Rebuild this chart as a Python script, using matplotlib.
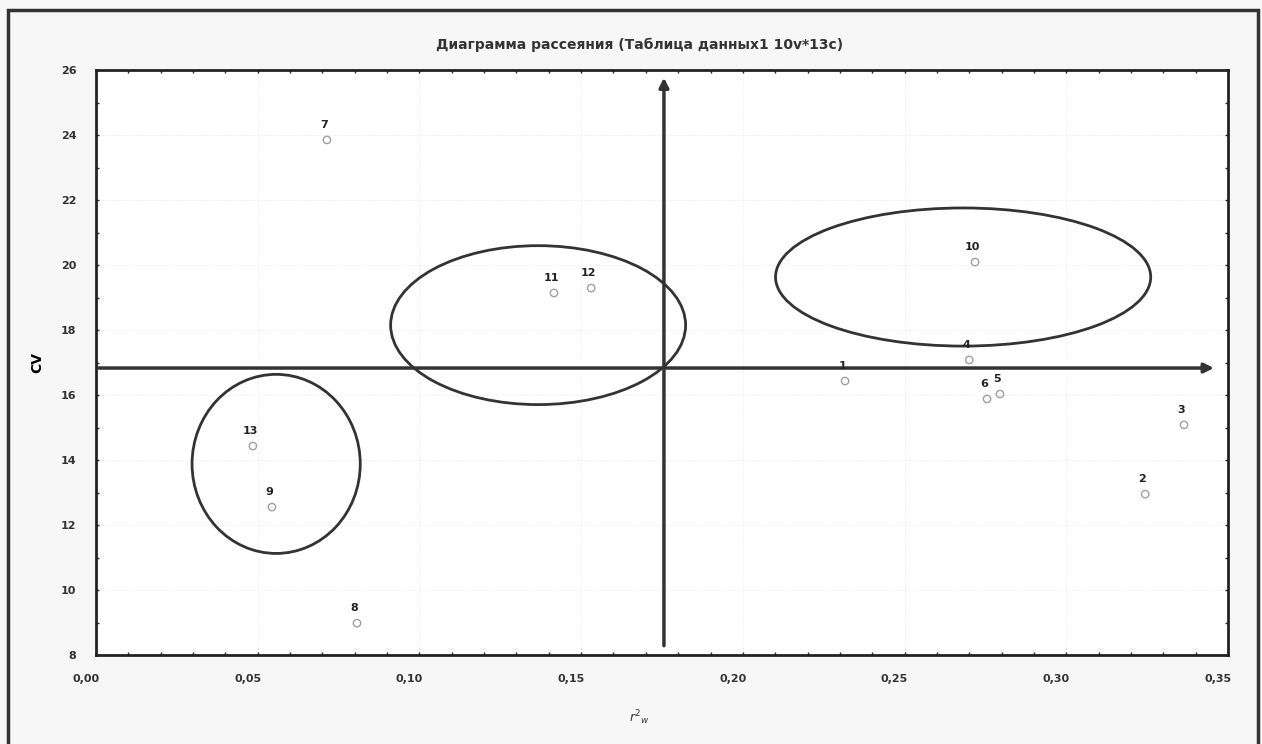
import matplotlib.pyplot as plt
import matplotlib.transforms as mtransforms
from matplotlib.patches import Ellipse, Rectangle
from matplotlib.ticker import MultipleLocator, FuncFormatter

# точки диаграммы рассеяния
labels = ['1', '2', '3', '4', '5', '6', '7', '8', '9', '10', '11', '12', '13']
r2w = [0.2316, 0.3244, 0.3364, 0.2700, 0.2795, 0.2755, 0.0714, 0.0807,
       0.0544, 0.2718, 0.1416, 0.1531, 0.0485]
cv = [16.43, 12.95, 15.08, 17.08, 16.03, 15.88, 23.85, 8.98,
      12.55, 20.09, 19.14, 19.29, 14.43]

# оси (линии со стрелками)
axis_x0 = 0.1756
axis_y0 = 16.83

# эллипсы групп: центр x, центр y, ширина, высота
ell_cx = [0.0557, 0.1367, 0.2681]
ell_cy = [13.88, 18.15, 19.63]
ell_w = [0.0520, 0.0912, 0.1160]
ell_h = [5.51, 4.89, 4.25]

fig = plt.figure(figsize=(12.62, 7.44), dpi=100, facecolor='#f7f7f7')
fig.patches.append(Rectangle((8/1262, -0.01), 1250/1262, 1 - 10/744 + 0.01,
                             transform=fig.transFigure, fill=False,
                             edgecolor='#333333', lw=2.5))
ax = fig.add_axes([96/1262, 89/744, 1132/1262, 585/744])

ax.set_xlim(0, 0.35)
ax.set_ylim(8, 26)
ax.xaxis.set_major_locator(MultipleLocator(0.05))
ax.yaxis.set_major_locator(MultipleLocator(2))
ax.xaxis.set_minor_locator(MultipleLocator(0.01))
ax.yaxis.set_minor_locator(MultipleLocator(1))
ax.xaxis.set_major_formatter(FuncFormatter(lambda v, p: f'{v:.2f}'.replace('.', ',')))
ax.yaxis.set_major_formatter(FuncFormatter(lambda v, p: f'{v:.0f}'))
ax.tick_params(which='both', direction='in', top=True, right=True,
               length=2.5, width=1, color='#222222')
ax.tick_params(labelsize=8, labelcolor='#333333', pad=14)
for t in ax.get_xticklabels():
    t.set_fontweight('bold')
    t.set_transform(t.get_transform() + mtransforms.ScaledTranslation(-0.1, 0, fig.dpi_scale_trans))
for t in ax.get_yticklabels():
    t.set_fontweight('bold')
for s in ax.spines.values():
    s.set_linewidth(2)
    s.set_color('#222222')

ax.grid(True, color='#e6e6e6', lw=0.6, ls=':')
ax.set_axisbelow(True)

ax.scatter(r2w, cv, s=28, facecolors='none', edgecolors='#a0a0a0', lw=1, zorder=4)
for x, y, lab in zip(r2w, cv, labels):
    ax.annotate(lab, (x, y), xytext=(-2, 7), textcoords='offset points',
                ha='center', va='bottom', fontsize=8, fontweight='bold',
                color='#222222', zorder=5)

for cx, cy, w, h in zip(ell_cx, ell_cy, ell_w, ell_h):
    ax.add_patch(Ellipse((cx, cy), w, h, fill=False, edgecolor='#333333', lw=2, zorder=3))

ax.annotate('', xy=(0.3465, axis_y0), xytext=(0, axis_y0),
            arrowprops=dict(arrowstyle='-|>', lw=2.5, color='#333333', mutation_scale=14))
ax.annotate('', xy=(axis_x0, 25.85), xytext=(axis_x0, 8.2),
            arrowprops=dict(arrowstyle='-|>', lw=2.5, color='#333333', mutation_scale=14))

fig.text(0.507, 0.94, 'Диаграмма рассеяния (Таблица данных1 10v*13c)',
         ha='center', va='center', fontsize=10, fontweight='bold', color='#333333')
ax.set_ylabel('CV', fontsize=10, fontweight='bold', labelpad=12)
fig.text(0.507, 0.035, r'$r^2{}_w$', ha='center', va='center', fontsize=9, color='#333333')

fig.savefig('out.png', dpi=100, facecolor=fig.get_facecolor())
